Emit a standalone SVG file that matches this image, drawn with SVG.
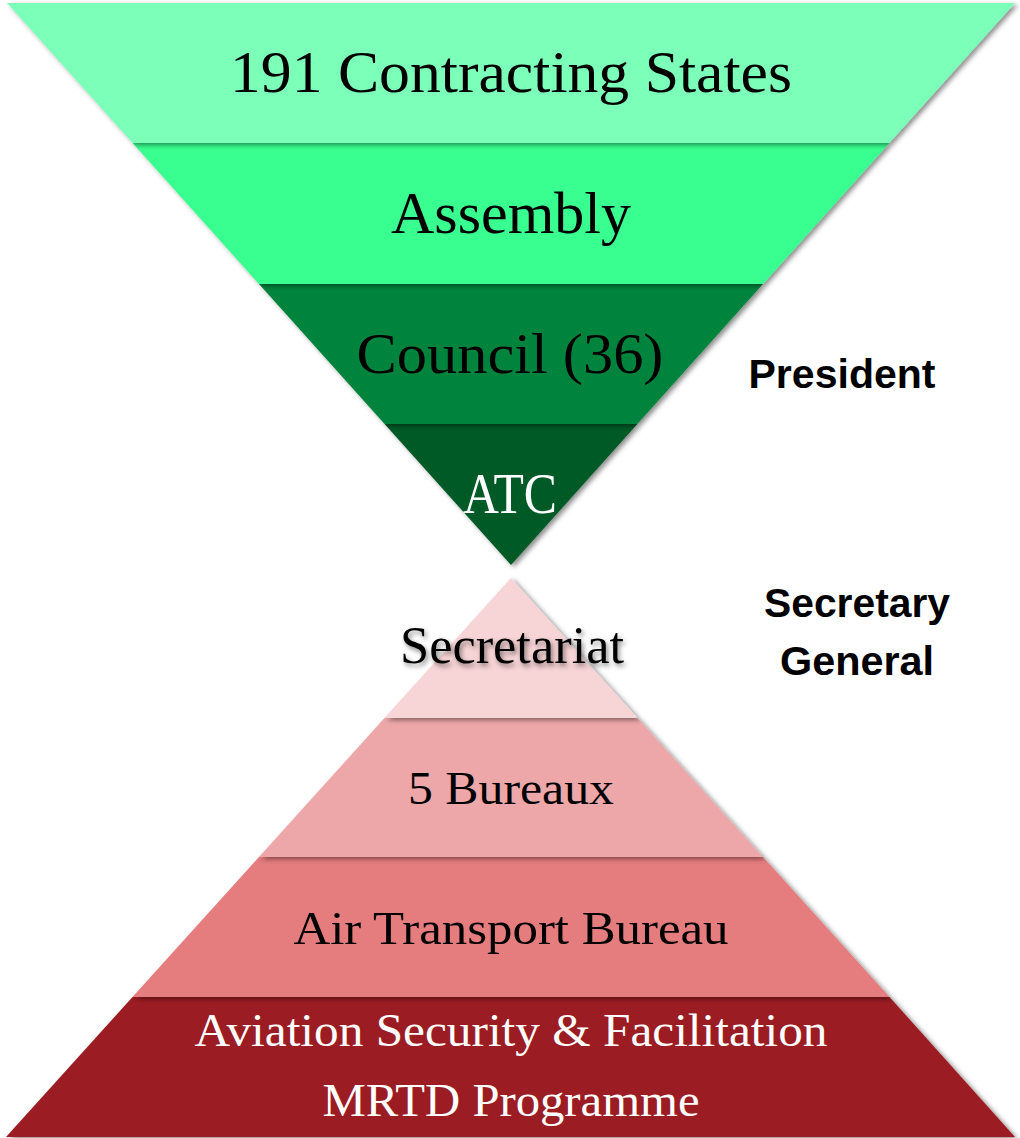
<svg xmlns="http://www.w3.org/2000/svg" width="1020" height="1138" viewBox="0 0 1020 1138">
  <defs>
    <filter id="shade" x="-10%" y="-20%" width="120%" height="140%">
      <feDropShadow dx="3" dy="2" stdDeviation="2.5" flood-color="#000" flood-opacity="0.45"/>
    </filter>
    <filter id="textShade" x="-10%" y="-30%" width="120%" height="160%">
      <feDropShadow dx="2" dy="3" stdDeviation="2.5" flood-color="#000" flood-opacity="0.45"/>
    </filter>
  </defs>
  <style>
    .band { filter: url(#shade); }
    .lbl { font-family: "Liberation Serif", "DejaVu Serif", serif; text-anchor: middle; }
    .dark { fill: #000; }
    .light { fill: #fff; }
    .side { font-family: "Liberation Sans", Arial, sans-serif; font-weight: bold; fill: #000; text-anchor: middle; }
  </style>
  <rect width="1020" height="1138" fill="#fff"/>

  <!-- Governing bodies: inverted triangle, drawn from the apex upwards -->
  <g id="atc">
    <polygon class="band" points="384.6,424 637.4,424 511,565" fill="#025A28"/>
    <text class="lbl light" x="510" y="513" font-size="58" textLength="94" lengthAdjust="spacingAndGlyphs">ATC</text>
  </g>
  <g id="council">
    <polygon class="band" points="259,284 763,284 637.4,424 384.6,424" fill="#01843D"/>
    <text class="lbl dark" x="510" y="373" font-size="58" textLength="307" lengthAdjust="spacingAndGlyphs">Council (36)</text>
  </g>
  <g id="assembly">
    <polygon class="band" points="132.6,143 889.4,143 763,284 259,284" fill="#37FF8F"/>
    <text class="lbl dark" x="511" y="233" font-size="60" textLength="240" lengthAdjust="spacingAndGlyphs">Assembly</text>
  </g>
  <g id="contracting-states">
    <polygon class="band" points="7,3 1015,3 889.4,143 132.6,143" fill="#7CFFB8"/>
    <text class="lbl dark" x="511" y="92" font-size="60" textLength="562" lengthAdjust="spacingAndGlyphs">191 Contracting States</text>
  </g>

  <!-- Secretariat: upright triangle -->
  <g id="mrtd">
    <polygon class="band" points="132.5,997 889.5,997 1015,1137 6,1137" fill="#9B1F24"/>
    <text class="lbl light" x="511" y="1046" font-size="46" textLength="633" lengthAdjust="spacingAndGlyphs">Aviation Security &amp; Facilitation</text>
    <text class="lbl light" x="511" y="1116" font-size="46" textLength="377" lengthAdjust="spacingAndGlyphs">MRTD Programme</text>
  </g>
  <g id="air-transport-bureau">
    <polygon class="band" points="259,857 763,857 889.5,997 132.5,997" fill="#E57B7E"/>
    <text class="lbl dark" x="511" y="944" font-size="46" textLength="435" lengthAdjust="spacingAndGlyphs">Air Transport Bureau</text>
  </g>
  <g id="bureaux">
    <polygon class="band" points="384.5,718 637.5,718 763,857 259,857" fill="#EDA7A9"/>
    <text class="lbl dark" x="511" y="804" font-size="46" textLength="206" lengthAdjust="spacingAndGlyphs">5 Bureaux</text>
  </g>
  <g id="secretariat">
    <polygon class="band" points="511,578 637.5,718 384.5,718" fill="#F7D4D5"/>
    <text class="lbl dark" x="512" y="663" font-size="52" textLength="224" lengthAdjust="spacingAndGlyphs" filter="url(#textShade)">Secretariat</text>
  </g>

  <!-- Office holders -->
  <g id="president">
    <text class="side" x="842" y="388" font-size="40" textLength="187" lengthAdjust="spacingAndGlyphs">President</text>
  </g>
  <g id="secretary-general">
    <text class="side" x="857" y="617" font-size="40" textLength="186" lengthAdjust="spacingAndGlyphs">Secretary</text>
    <text class="side" x="857" y="675" font-size="40" textLength="154" lengthAdjust="spacingAndGlyphs">General</text>
  </g>

  <g id="connectors"/>
</svg>
